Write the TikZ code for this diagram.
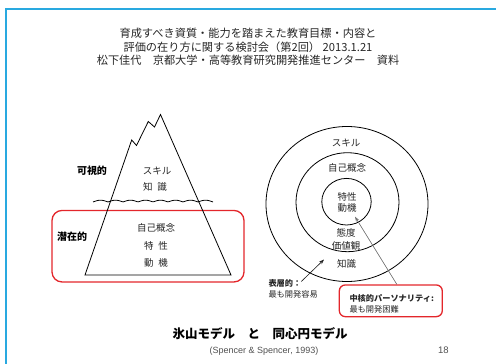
\documentclass[tikz,border=0pt]{standalone}
\usepackage{fontspec}
\setmainfont{Liberation Sans}
\newfontfamily\jp{Noto Sans CJK JP}
\usetikzlibrary{arrows.meta}
\definecolor{frameblue}{HTML}{29A9E0}
\definecolor{boxred}{HTML}{E3262B}
\definecolor{ink}{HTML}{262626}
\definecolor{soft}{HTML}{505050}
\begin{document}
\begin{tikzpicture}[x=1pt,y=-1pt,
  heading/.style={font=\jp\fontsize{11.2}{13.7}\selectfont, align=center, text=ink, inner sep=0pt},
  jtext/.style={font=\jp\fontsize{9.5}{11}\selectfont, text=ink, inner sep=0pt},
  jbold/.style={font=\jp\bfseries\fontsize{10}{12}\selectfont, text=black, inner sep=0pt},
  note/.style={font=\jp\fontsize{8.2}{11}\selectfont, text=ink, align=left, inner sep=0pt},
  redbox/.style={draw=boxred, line width=1.3pt, fill=none},
  outline/.style={draw=black, line width=0.8pt},
  pointer/.style={line width=0.6pt, -{Stealth[length=5pt,width=3.5pt]}}
]
\useasboundingbox (0,0) rectangle (496,364);

% slide frame
\draw[frameblue, line width=2pt] (6,364) -- (6,9) -- (496,9);

% heading
\node[heading] (head) at (248,47)
  {育成すべき資質・能力を踏まえた教育目標・内容と\\
   評価の在り方に関する検討会（第2回） 2013.1.21\\
   松下佳代　京都大学・高等教育研究開発推進センター　資料};

% ---------- iceberg model ----------
\node[redbox, rounded corners=10pt, minimum width=192pt, minimum height=71.5pt, inner sep=0pt] (latent) at (148,246.2) {};
\draw[outline, line join=miter]
  (85,275) -- (131.7,140) -- (136.5,145.5) -- (148.3,121.5) -- (154.5,127)
  -- (160.5,114.5) -- (231,275) -- cycle;
\draw[black, line width=0.8pt] plot[domain=93:213, samples=120, smooth]
  (\x, {202 - 1.8*abs(sin((\x-93)*12))});

\node[jbold] (visible) at (92,170.5) {可視的};
\node[jbold] (hidden) at (72,237) {潜在的};
\node[jtext] (iskill) at (157,170.5) {スキル};
\node[jtext] (iknow) at (155,187) {知\hspace{0.5em}識};
\node[jtext] (iself) at (156,228) {自己概念};
\node[jtext] (itrait) at (156,246) {特\hspace{0.5em}性};
\node[jtext] (imotive) at (156,263) {動\hspace{0.5em}機};

% ---------- concentric model ----------
\draw[outline] (347,204) ellipse [x radius=81pt, y radius=77.5pt];
\draw[outline] (347.5,202.2) ellipse [x radius=51.5pt, y radius=49.5pt];
\draw[outline] (346.5,201.7) ellipse [x radius=24.7pt, y radius=23.3pt];

\node[jtext] (cskill) at (346,143.3) {スキル};
\node[jtext] (cself) at (347,168.3) {自己概念};
\node[jtext, align=center, font=\jp\fontsize{9.5}{11.6}\selectfont] (ccore) at (347,202.5) {特性\\動機};
\node[jtext, align=center, font=\jp\fontsize{9.5}{12.4}\selectfont] (cattitude) at (346,239.5) {態度\\価値観};
\node[jtext] (cknow) at (346.7,264.3) {知識};

\node[note, anchor=north west] (surf) at (268.3,279.5)
  {{\bfseries 表層的：}\\最も開発容易};
\node[redbox, rounded corners=6pt, minimum width=103pt, minimum height=31.7pt, inner sep=0pt] (corebox) at (390.8,300.8) {};
\node[note, anchor=west] (coretext) at (349.3,303.5)
  {{\bfseries 中核的パーソナリティ:}\\最も開発困難};

\coordinate (surftip) at (324,259.5);
\coordinate (coretip) at (355,216.7);
\draw[pointer, draw=ink, fill=ink] ([shift={(33,2)}]surf.north west) -- (surftip);
\draw[pointer, draw=soft!80, fill=soft] ([xshift=6pt]corebox.north) -- (coretip);

% ---------- captions ----------
\node[font=\jp\bfseries\fontsize{12.5}{15}\selectfont, inner sep=0pt] (caption) at (260,333.3)
  {氷山モデル　と　同心円モデル};
\node[font=\fontsize{9}{11}\selectfont, text=soft, inner sep=0pt] (source) at (264,350.7)
  {(Spencer \& Spencer, 1993)};
\node[font=\fontsize{9.5}{11}\selectfont, text=soft, inner sep=0pt] (page) at (443.3,350.7) {18};
\end{tikzpicture}
\end{document}
